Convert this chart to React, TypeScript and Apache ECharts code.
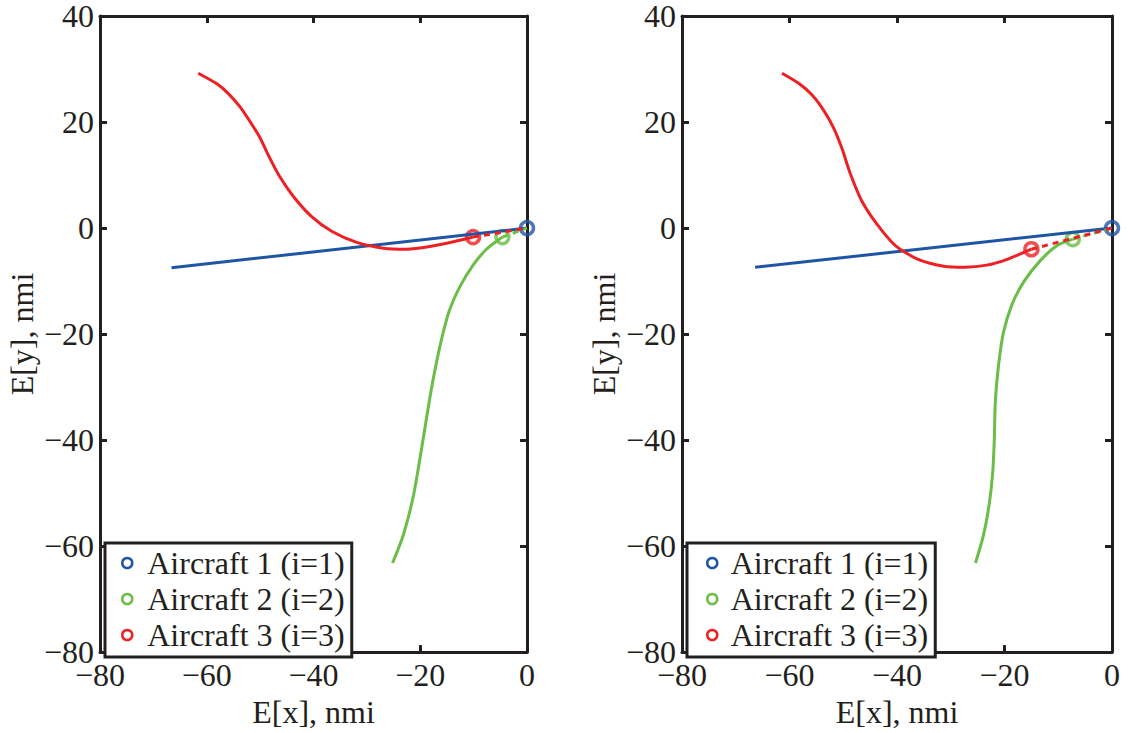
import React, { useEffect, useRef } from "react";
import * as echarts from "echarts";

const NAMES = ["Aircraft 1 (i=1)", "Aircraft 2 (i=2)", "Aircraft 3 (i=3)"];
const COLORS = ["#1f55a5", "#6abd45", "#ed2024"];
const ORIGIN: [number, number] = [0, 0];

// Left panel trajectories [E[x], E[y]] in nmi
const leftBlue: [number, number][] = [[-66.6, -7.5], [0, 0]];
const leftGreen: [number, number][] = [
  [-25.2, -63.2], [-23.2, -58.0], [-21.3, -50.6], [-19.8, -41.9], [-18.2, -32.0],
  [-16.95, -25.3], [-15.7, -19.7], [-14.5, -15.4], [-12.6, -11.1], [-10.1, -7.0],
  [-7.6, -4.0], [-4.6, -1.7],
];
const leftRed: [number, number][] = [
  [-61.6, 29.2], [-58.1, 27.2], [-56.0, 25.4], [-53.8, 22.9], [-51.9, 20.1],
  [-50.0, 17.0], [-48.4, 13.6], [-46.4, 9.8], [-43.8, 6.0], [-40.4, 2.2],
  [-36.6, -0.6], [-31.9, -2.7], [-26.9, -3.8], [-22.6, -4.0], [-18.2, -3.5],
  [-13.8, -2.6], [-10.1, -1.7],
];

// Right panel trajectories
const rightBlue: [number, number][] = [[-66.4, -7.4], [0, 0]];
const rightGreen: [number, number][] = [
  [-25.4, -63.2], [-23.9, -57.9], [-22.8, -51.8], [-22.2, -46.2], [-21.9, -40.0],
  [-21.7, -32.6], [-21.1, -25.8], [-20.2, -19.7], [-18.6, -14.4], [-16.4, -10.1],
  [-13.3, -6.1], [-10.2, -3.3], [-7.3, -2.1],
];
const rightRed: [number, number][] = [
  [-61.4, 29.2], [-58.3, 27.3], [-55.8, 25.1], [-53.7, 22.3], [-51.8, 18.9],
  [-50.2, 14.9], [-48.7, 10.3], [-46.5, 5.0], [-43.7, 0.7], [-40.3, -3.3],
  [-36.3, -5.8], [-31.3, -7.2], [-27.3, -7.4], [-23.3, -7.0], [-19.5, -5.9],
  [-15.0, -4.0],
];

const X_MIN = -80, X_MAX = 0, Y_MIN = -80, Y_MAX = 40, STEP = 20;

const INK = "#231f20";
const FONT = "'Liberation Serif', 'Times New Roman', serif";
const FS = 32;

const last = (a: [number, number][]) => a[a.length - 1];
const fmt = (v: number) => String(v).replace("-", "\u2212");

function panelAxes(grid: number) {
  const line = { show: true, onZero: false, lineStyle: { color: INK, width: 3 } };
  const tick = { show: true, inside: true, length: 7, lineStyle: { color: INK, width: 3 } };
  const lab = { color: INK, fontFamily: FONT, fontSize: FS, lineHeight: 28, margin: 6, formatter: fmt };
  const xAxes = [
    {
      type: "value", gridIndex: grid, position: "bottom", min: X_MIN, max: X_MAX, interval: STEP,
      axisLine: line, axisTick: tick, splitLine: { show: false },
      axisLabel: { ...lab, margin: 9 },
      name: "E[x], nmi", nameLocation: "middle", nameGap: 34,
      nameTextStyle: { color: INK, fontFamily: FONT, fontSize: FS },
    },
    {
      type: "value", gridIndex: grid, position: "top", min: X_MIN, max: X_MAX, interval: STEP,
      axisLine: line, axisTick: tick, splitLine: { show: false }, axisLabel: { show: false },
    },
  ];
  const yAxes = [
    {
      type: "value", gridIndex: grid, position: "left", min: Y_MIN, max: Y_MAX, interval: STEP,
      axisLine: line, axisTick: tick, splitLine: { show: false }, axisLabel: lab,
      name: "E[y], nmi", nameLocation: "middle", nameGap: 62,
      nameTextStyle: { color: INK, fontFamily: FONT, fontSize: FS },
    },
    {
      type: "value", gridIndex: grid, position: "right", min: Y_MIN, max: Y_MAX, interval: STEP,
      axisLine: line, axisTick: tick, splitLine: { show: false }, axisLabel: { show: false },
    },
  ];
  return { xAxes, yAxes };
}

function panelSeries(axisBase: number, blue: any[], green: any[], red: any[]) {
  const ax = { xAxisIndex: axisBase, yAxisIndex: axisBase };
  const solid = (name: string, color: string, data: any[]) => ({
    type: "line", name, ...ax, data, showSymbol: false, symbol: "none", smooth: 0.25,
    lineStyle: { color, width: 3 }, itemStyle: { color }, silent: true,
  });
  const dashed = (name: string, color: string, data: any[]) => ({
    type: "line", name, ...ax, data, showSymbol: false, symbol: "none",
    lineStyle: { color, width: 3, type: [6, 5] }, itemStyle: { color }, silent: true,
  });
  const mark = (name: string, color: string, pt: any) => ({
    type: "scatter", name, ...ax, data: [pt], symbol: "circle", symbolSize: 13,
    itemStyle: { color: "rgba(255,255,255,0)", borderColor: color, borderWidth: 3.5 }, silent: true,
    clip: false,
  });
  return [
    solid(NAMES[0], COLORS[0], blue),
    solid(NAMES[1], COLORS[1], green),
    solid(NAMES[2], COLORS[2], red),
    dashed("link2", COLORS[1], [last(green), ORIGIN]),
    dashed("link3", COLORS[2], [last(red), ORIGIN]),
    mark("m2", COLORS[1], last(green)),
    mark("m3", COLORS[2], last(red)),
    mark("m1", COLORS[0], ORIGIN),
  ];
}

function legend(left: number, padL: number, iw: number) {
  return {
    show: true, orient: "vertical", left, top: 543, selectedMode: false,
    backgroundColor: "#fff", borderColor: INK, borderWidth: 3,
    padding: [2, 7, 4, padL], itemGap: 0, itemWidth: iw, itemHeight: 10,
    icon: "circle",
    textStyle: { color: INK, fontFamily: FONT, fontSize: FS, lineHeight: 36 },
    data: NAMES.map((n, i) => ({
      name: n, icon: "circle",
      itemStyle: { color: "#fff", borderColor: COLORS[i], borderWidth: 2.5 },
    })),
  };
}

export default function App() {
  const ref = useRef<HTMLDivElement>(null);
  useEffect(() => {
    if (!ref.current) return;
    const chart = echarts.init(ref.current, null, { renderer: "svg" });
    const p0 = panelAxes(0);
    const p1 = panelAxes(1);
    chart.setOption({
      animation: false,
      backgroundColor: "#fff",
      grid: [
        { left: 100, top: 16, width: 427, height: 646, containLabel: false },
        { left: 682, top: 16, width: 430, height: 646, containLabel: false },
      ],
      xAxis: [...p0.xAxes, ...p1.xAxes],
      yAxis: [...p0.yAxes, ...p1.yAxes],
      legend: [legend(105, 16, 30), legend(687, 19, 27)],
      series: [
        ...panelSeries(0, leftBlue, leftGreen, leftRed),
        ...panelSeries(2, rightBlue, rightGreen, rightRed),
      ],
    });
    return () => chart.dispose();
  }, []);
  return (
    <div
      ref={ref}
      style={{ position: "fixed", left: 0, top: 0, width: 1131, height: 733, background: "#fff" }}
    />
  );
}
